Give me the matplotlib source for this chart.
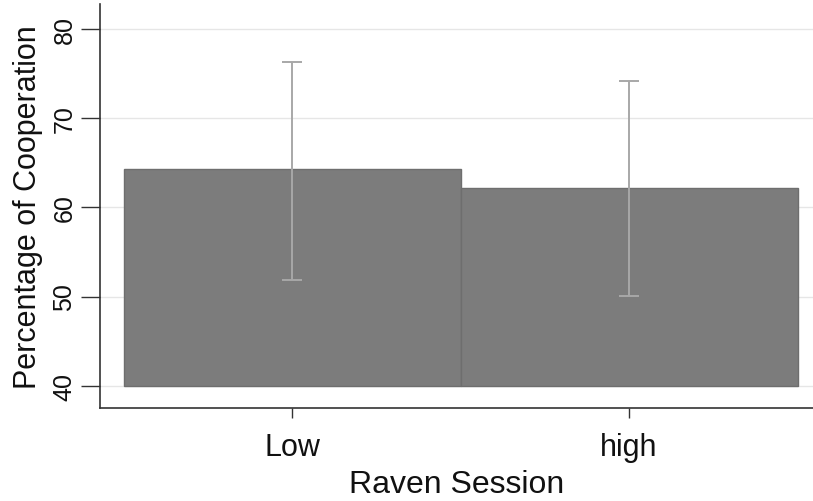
import matplotlib
matplotlib.use("Agg")
import matplotlib.pyplot as plt
import numpy as np

categories = ["Low", "high"]
means = [64.3, 62.2]
ci_low = [51.8, 50.1]
ci_high = [76.3, 74.2]
base = 40
yticks = [40, 50, 60, 70, 80]

plt.rcParams['font.family'] = ['Liberation Sans', 'DejaVu Sans']

fig = plt.figure(figsize=(8.13, 5.02), dpi=100)
ax = fig.add_axes([100/813, 93/502, 713/813, 404/502])

x = np.arange(len(categories))
heights = [m - base for m in means]
ax.bar(x, heights, bottom=base, width=1.0, color="#7c7c7c",
       edgecolor="#6e6e6e", linewidth=1.0, zorder=2)
lower = [m - l for m, l in zip(means, ci_low)]
upper = [h - m for m, h in zip(means, ci_high)]
ax.errorbar(x, means, yerr=[lower, upper], fmt="none", ecolor="#a8a8a8",
            elinewidth=1.4, capsize=7, capthick=1.4, zorder=3)

ax.set_xlim(-0.57, 1.546)
ax.set_ylim(37.5, 82.8)
ax.set_yticks(yticks)
ax.set_yticklabels([str(t) for t in yticks], rotation=90, va="center", fontsize=18)
ax.set_xticks(x)
ax.set_xticklabels(categories, fontsize=22)
ax.yaxis.grid(True, color="#e6e6e6", linewidth=1.0, zorder=0)
ax.set_axisbelow(True)
for s in ["top", "right"]:
    ax.spines[s].set_visible(False)
for s in ["left", "bottom"]:
    ax.spines[s].set_color("#333333")
    ax.spines[s].set_linewidth(1.2)
ax.tick_params(axis="y", length=14, width=1.0, colors="#333333", pad=3)
ax.tick_params(axis="x", length=7, width=1.0, colors="#333333", pad=10)
ax.tick_params(labelcolor="#111111")
ax.set_ylabel("Percentage of Cooperation", fontsize=22, labelpad=7, color="#111111")
ax.set_xlabel("Raven Session", fontsize=23, labelpad=5.5, color="#111111")

fig.savefig("out.png", dpi=100)
